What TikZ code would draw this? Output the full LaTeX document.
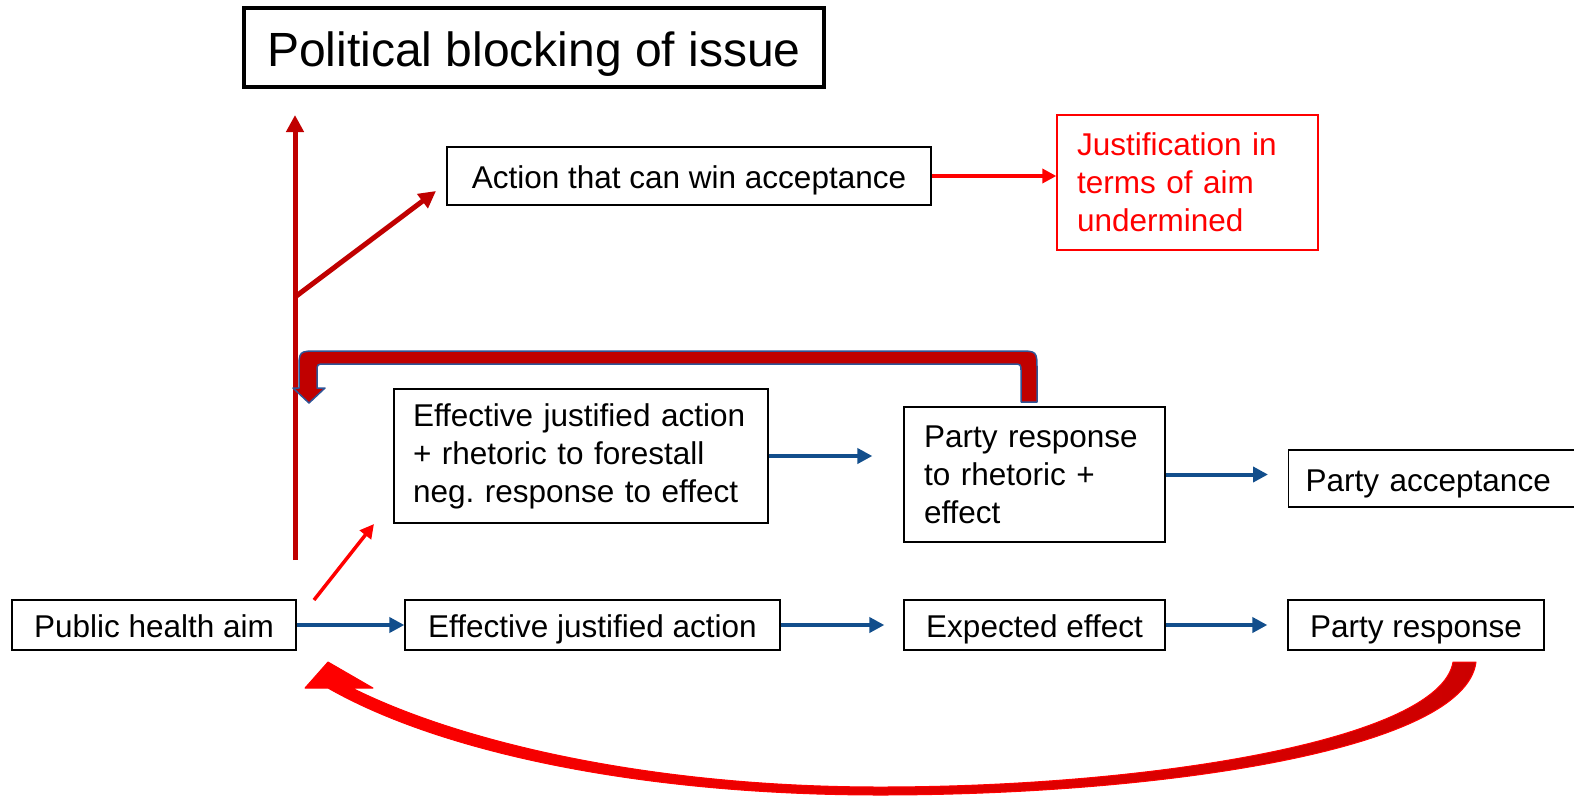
\documentclass[tikz,border=0pt]{standalone}
\usepackage{fontspec}
\setmainfont{Liberation Sans}
\usetikzlibrary{arrows.meta}
\definecolor{dred}{RGB}{192,0,0}
\definecolor{bred}{RGB}{255,0,0}
\definecolor{dblue}{RGB}{18,78,140}
\definecolor{oblue}{RGB}{47,85,151}
\frenchspacing
\begin{document}
\begin{tikzpicture}[x=1pt,y=-1pt,
 box/.style={draw=black, line width=1.3pt, inner sep=0pt, font=\fontsize{31.5}{38}\selectfont},
 oneline/.style={text height=25pt, text depth=0pt},
 barrow/.style={draw=dblue, line width=4pt, -{Triangle[length=15pt,width=15pt]}},
 rarrow/.style={draw=bred, line width=4pt, -{Triangle[length=14pt,width=14pt]}},
 drarrow/.style={draw=dred, line width=5pt, -{Triangle[length=17pt,width=17pt]}},
]
\useasboundingbox (0,0) rectangle (1574,796);
\clip (0,0) rectangle (1574,796);

% nodes
\node[box, line width=4pt, minimum width=580pt, minimum height=79pt, text height=38pt, text depth=0pt, font=\fontsize{48}{58}\selectfont] (title) at (534,47.5) {Political blocking of issue};
\node[box, oneline, minimum width=484pt, minimum height=58pt] (act) at (689,176) {Action that can win acceptance};
\node[box, draw=bred, text=bred, text width=221pt, inner xsep=20pt, align=left, minimum height=135pt] (just) at (1187.5,182.5) {Justification in\\terms of aim\\undermined};
\node[box, text width=336pt, inner xsep=19pt, align=left, minimum height=134pt] (effr) at (581,456) {Effective justified action\\+ rhetoric to forestall\\neg. response to effect};
\node[box, text width=221pt, inner xsep=20pt, align=left, minimum height=135pt] (prr) at (1034.5,474.5) {Party response\\to rhetoric +\\effect};
\node[box, oneline, anchor=west, text width=300pt, inner xsep=17pt, align=left, minimum height=57pt] (pa) at (1288,478.5) {Party acceptance};
\node[box, oneline, minimum width=284pt, minimum height=50pt] (pha) at (154,625) {Public health aim};
\node[box, oneline, minimum width=375pt, minimum height=50pt] (eja) at (592.5,625) {Effective justified action};
\node[box, oneline, minimum width=261pt, minimum height=50pt] (ee) at (1034.5,625) {Expected effect};
\node[box, oneline, minimum width=256pt, minimum height=50pt] (pr) at (1416,625) {Party response};

% blue arrows
\draw[barrow] (pha.east) -- (eja.west);
\draw[barrow, shorten >=19pt] (eja.east) -- (ee.west);
\draw[barrow, shorten >=20pt] (ee.east) -- (pr.west);
\draw[barrow, shorten >=31pt] (effr.east) -- (effr.east -| prr.west);
\draw[barrow, shorten >=20pt] (prr.east) -- (prr.east -| pa.west);

% red arrows
\coordinate (vbot) at (295,560);
\coordinate (vtop) at (295,115);
\coordinate (fork) at (295,297);
\coordinate (dtip) at (436,191);
\coordinate (tstart) at (314,600);
\coordinate (ttip) at (374,524);
\draw[drarrow] (vbot) -- (vtop);
\draw[drarrow] (fork) -- (dtip);
\draw[rarrow, line width=3.5pt] (tstart) -- (ttip);
\draw[rarrow] (act.east) -- (act.east -| just.west);

% loop arrow (party response to rhetoric back to the vertical)
\filldraw[fill=dred, draw=oblue, line width=1.5pt, line join=round]
 (1037,402) -- (1037,370) .. controls (1037,351) .. (1018,351)
 -- (318,351) .. controls (299,351) .. (299,370) -- (299,388)
 -- (293,388) -- (309,403) -- (325,388) -- (317,388) -- (317,372)
 .. controls (317,364) .. (325,364) -- (1013,364)
 .. controls (1021,364) .. (1021,372) -- (1021,402) -- cycle;

% big curved arrow from party response back to public health aim
\shadedraw[left color=bred, right color=red!80!black, draw=bred, line width=1pt, line join=round]
 (1476,662) .. controls (1465,750) and (1160,795) .. (880,795)
 .. controls (640,795) and (440,752) .. (328,688)
 -- (305,688) -- (328,662) -- (373,688) -- (352,688)
 .. controls (460,742) and (650,787) .. (880,787)
 .. controls (1150,787) and (1440,740) .. (1453,662) -- cycle;
\end{tikzpicture}
\end{document}
